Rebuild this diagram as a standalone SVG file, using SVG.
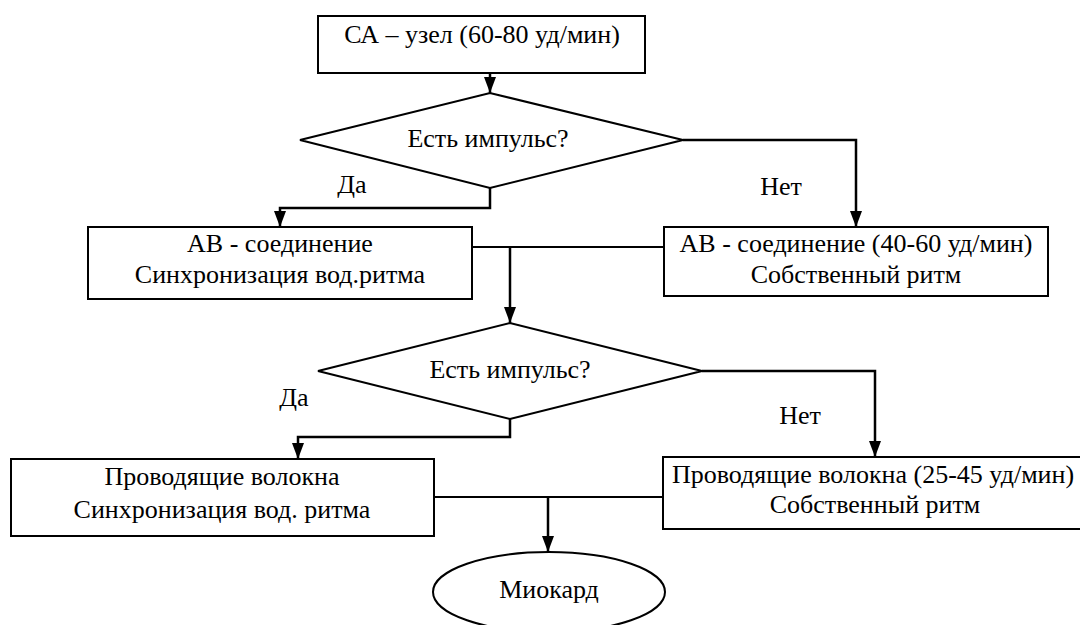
<svg xmlns="http://www.w3.org/2000/svg" width="1080" height="625" viewBox="0 0 1080 625">
<defs>
<style>
text{font-family:'Times New Roman',Tinos,'Liberation Serif',Times,'DejaVu Serif',serif;font-size:26px;fill:#000;text-anchor:middle}
.shape{fill:#fff;stroke:#000;stroke-width:2}
.con{fill:none;stroke:#000;stroke-width:2.5}
.thin{fill:none;stroke:#000;stroke-width:1.8}
</style>
<marker id="arr" viewBox="0 0 16 12" refX="16" refY="6" markerWidth="16" markerHeight="12" markerUnits="userSpaceOnUse" orient="auto">
<path d="M0,0 L16,6 L0,12 Z" fill="#000"/>
</marker>
</defs>
<rect width="1080" height="625" fill="#fff"/>
<g id="connectors">
<path class="con" d="M490,73 V93" marker-end="url(#arr)"/>
<path class="con" d="M683,140 H856 V227" marker-end="url(#arr)"/>
<path class="con" d="M490,188 V208 H280 V227" marker-end="url(#arr)"/>
<path class="thin" d="M472,247 H664"/>
<path class="con" d="M510,247 V323" marker-end="url(#arr)"/>
<path class="con" d="M702,371 H875 V457" marker-end="url(#arr)"/>
<path class="con" d="M510,419 V437 H298 V459" marker-end="url(#arr)"/>
<path class="thin" d="M434,497 H663"/>
<path class="con" d="M548,497 V552" marker-end="url(#arr)"/>
<text x="352" y="193">Да</text>
<text x="781" y="195">Нет</text>
<text x="294" y="406">Да</text>
<text x="800" y="424">Нет</text>
</g>
<g id="n1">
<rect class="shape" x="318" y="16" width="327" height="57"/>
<text x="482" y="43">СА – узел (60-80 уд/мин)</text>
</g>
<g id="d1">
<polygon class="shape" points="300,140 490,93 683,140 490,188"/>
<text x="488" y="147">Есть импульс?</text>
</g>
<g id="n2">
<rect class="shape" x="88" y="227" width="384" height="72"/>
<text x="280" y="252">АВ - соединение</text>
<text x="280" y="283">Синхронизация вод.ритма</text>
</g>
<g id="n3">
<rect class="shape" x="664" y="227" width="384" height="69"/>
<text x="856" y="252">АВ - соединение (40-60 уд/мин)</text>
<text x="856" y="283">Собственный ритм</text>
</g>
<g id="d2">
<polygon class="shape" points="318,371 510,323 702,371 510,419"/>
<text x="510" y="378">Есть импульс?</text>
</g>
<g id="n4">
<rect class="shape" x="11" y="459" width="423" height="77"/>
<text x="222" y="485">Проводящие волокна</text>
<text x="222" y="518">Синхронизация вод. ритма</text>
</g>
<g id="n5">
<rect class="shape" x="663" y="457" width="425" height="72"/>
<text x="873" y="483">Проводящие волокна (25-45 уд/мин)</text>
<text x="875" y="513">Собственный ритм</text>
</g>
<g id="n6">
<ellipse class="shape" cx="549" cy="592" rx="116" ry="40"/>
<text x="549" y="598">Миокард</text>
</g>
</svg>
